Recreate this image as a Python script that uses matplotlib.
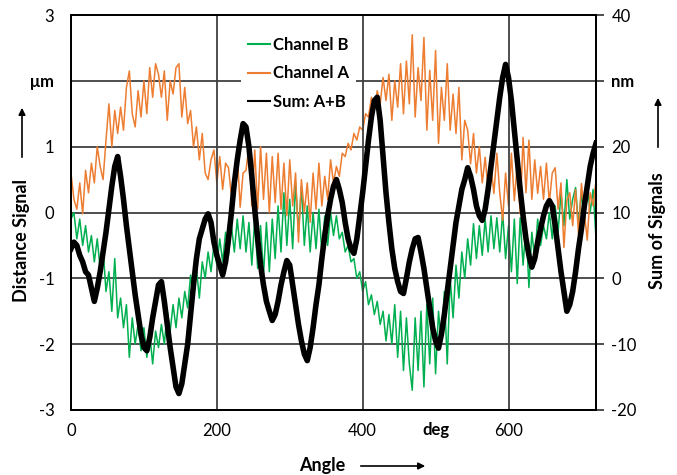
import matplotlib
matplotlib.use("Agg")
import matplotlib.pyplot as plt

plt.rcParams['font.family'] = ['Lato', 'DejaVu Sans']

# angle in deg, one sample every 4 deg
angle = list(range(0, 721, 4))

channel_a = [
    0.6, 0.2, 0.05, 0.45, -0.02, 0.64, 0.3, 0.75, 0.45, 1.0,
    0.7, 0.5, 1.1, 1.65, 1.0, 1.55, 1.2, 1.6, 1.25, 1.9,
    2.15, 1.5, 1.3, 1.85, 1.45, 2.0, 1.5, 2.2, 1.75, 2.26,
    2.1, 1.75, 2.15, 1.4, 2.0, 1.8, 2.2, 2.26, 1.45, 1.9,
    1.35, 1.55, 1.0, 1.3, 0.8, 1.2, 0.6, 0.5, 0.8, 0.95,
    0.45, 0.85, 0.35, 0.75, 0.68, 0.25, 0.3, 0.9, 0.08, 0.6,
    0.64, 1.0, 0.1, 0.95, 0.05, 1.0, 0.2, 0.9, 0.0, 0.85,
    0.15, 0.9, 0.05, 0.75, -0.05, 0.8, 0.1, 0.6, -0.45, 0.5,
    0.0, 0.45, -0.15, 0.6, 0.05, 0.75, 0.1, 0.55, 0.2, 0.8,
    0.45, 0.7, 0.55, 0.9, 0.85, 1.05, 0.95, 1.2, 1.1, 1.3,
    1.25, 1.5, 1.45, 1.75, 1.6, 1.85, 1.65, 2.05, 1.7, 2.1,
    1.4, 2.0, 1.6, 2.26, 1.5, 2.3, 1.65, 2.7, 1.45, 2.2,
    1.7, 2.66, 1.25, 2.16, 1.4, 2.46, 1.05, 1.9, 1.4, 2.26,
    1.25, 1.8, 1.2, 1.9, 0.8, 1.4, 1.25, 0.74, 1.2, 0.6,
    1.0, 0.45, 0.84, 0.35, 0.7, 0.29, 0.9, 0.3, -0.12, 0.6,
    0.1, 0.9, 0.18, 0.75, -0.02, 1.14, 0.3, 1.1, 0.2, 0.8,
    0.29, 0.7, 0.2, 0.75, 0.15, 0.6, 0.68, 0.05, 0.45, -0.53,
    0.18, 0.3, -0.2, 0.35, -0.32, 0.44, 0.0, -0.42, 0.3, 0.1,
    0.48,
]

channel_b = [
    -0.1, 0.0, -0.4, -0.1, -0.5, -0.2, -0.6, -0.35, -0.75, -0.4,
    -0.85, -0.55, -1.2, -0.9, -1.5, -0.7, -1.6, -1.3, -1.75, -1.4,
    -2.2, -1.6, -2.0, -1.7, -2.1, -1.75, -2.2, -1.85, -2.3, -1.8,
    -2.05, -1.7, -2.0, -1.5, -1.8, -1.4, -1.75, -1.3, -1.6, -1.2,
    -1.45, -0.95, -1.3, -0.85, -1.3, -0.75, -1.0, -0.6, -0.9, -0.5,
    -0.8, -0.4, -0.75, -0.3, -0.65, -0.2, -0.6, -0.1, -0.55, -0.05,
    -0.6, -0.15, -0.8, -0.1, -0.85, -0.2, -0.95, -0.15, -0.9, -0.1,
    -0.7, 0.1, -0.6, 0.3, -0.5, 0.2, -0.55, 0.45, -0.3, 0.4,
    -0.5, 0.1, -0.6, 0.0, -0.55, 0.05, -0.6, -0.05, -0.5, 0.0,
    -0.35, -0.05, -0.4, -0.3, -0.6, -0.5, -0.75, -0.7, -1.0, -0.9,
    -1.2, -1.05, -1.4, -1.25, -1.55, -1.35, -1.7, -1.5, -1.95, -1.55,
    -2.0, -1.4, -2.2, -1.5, -2.4, -1.6, -2.3, -2.7, -1.6, -2.4,
    -1.5, -2.65, -1.4, -2.3, -1.3, -2.45, -1.5, -2.0, -1.2, -2.3,
    -1.0, -1.6, -0.8, -1.3, -0.6, -1.0, -0.4, -0.8, -0.17, -0.7,
    -0.2, -0.65, -0.1, -0.6, -0.05, -0.55, -0.08, -0.6, 0.0, -0.7,
    -0.2, -0.9, -0.1, -1.08, -0.08, -0.8, -0.2, -1.14, -0.3, -0.7,
    -0.1, -0.5, -0.2, -0.4, 0.0, -0.4, 0.1, -0.3, 0.3, -0.2,
    0.5, -0.1, 0.2, 0.38, -0.2, 0.3, -0.15, 0.44, 0.0, 0.35,
    -0.4,
]

sum_ab = [
    4.5, 5.5, 5.0, 3.5, 2.5, 1.0, 0.5, -1.5, -3.5, -1.5,
    1.0, 4.0, 7.0, 10.5, 14.0, 17.0, 18.5, 15.5, 12.0, 8.0,
    4.5, 1.0, -2.5, -5.5, -8.5, -10.5, -11.0, -9.0, -6.0, -3.5,
    -1.0, -0.5, -3.5, -7.0, -10.5, -13.5, -16.5, -17.5, -16.0, -13.0,
    -10.0, -5.5, -1.0, 3.0, 6.0, 7.5, 9.0, 9.8, 8.5, 5.5,
    3.5, 2.0, 0.5, 2.5, 6.0, 10.0, 14.5, 18.0, 21.0, 23.5,
    23.0, 20.0, 15.5, 10.5, 6.0, 2.0, -1.0, -3.5, -5.0, -6.4,
    -5.5, -3.5, -1.0, 1.0, 2.7, 2.0, -1.0, -4.0, -7.0, -9.5,
    -11.5, -12.5, -10.5, -7.5, -4.0, -1.0, 3.0, 6.5, 9.5, 12.0,
    14.0, 15.0, 13.5, 11.5, 8.5, 6.0, 4.5, 3.8, 6.0, 9.5,
    13.0, 17.0, 21.0, 24.5, 27.0, 27.5, 24.0, 18.5, 13.0, 8.5,
    4.5, 1.5, -0.5, -2.0, -2.3, 0.0, 2.5, 4.5, 6.0, 6.2,
    4.0, 1.5, -1.5, -4.5, -7.5, -9.5, -10.6, -8.5, -5.5, -2.0,
    1.5, 5.0, 8.5, 11.0, 13.5, 15.0, 16.8, 15.5, 13.5, 11.0,
    9.5, 8.8, 10.5, 13.5, 17.0, 20.5, 24.0, 27.5, 30.5, 32.5,
    30.5, 27.0, 22.5, 18.0, 13.5, 9.5, 6.0, 3.5, 1.7, 3.0,
    5.5, 7.5, 9.5, 11.0, 11.8, 11.0, 8.0, 4.5, 1.0, -2.0,
    -5.0, -4.0, -2.0, 1.0, 4.5, 7.5, 11.0, 14.0, 17.0, 19.0,
    20.5,
]

x_ticks = [0, 200, 400, 500, 600]
x_tick_labels = ['0', '200', '400', 'deg', '600']
left_ticks = [-3, -2, -1, 0, 1, 2, 3]
left_tick_labels = ['-3', '-2', '-1', '0', '1', 'μm', '3']
right_ticks = [-20, -10, 0, 10, 20, 30, 40]
right_tick_labels = ['-20', '-10', '0', '10', '20', 'nm', '40']

green = '#00B050'
orange = '#ED7D31'
gridc = '#404040'

fig = plt.figure(figsize=(6.77, 4.75), dpi=100)
ax = fig.add_axes([71 / 677, 1 - 410 / 475, 525 / 677, 395 / 475])
ax2 = ax.twinx()

lb, = ax.plot(angle, channel_b, color=green, lw=1.1, label='Channel B')
la, = ax.plot(angle, channel_a, color=orange, lw=1.1, label='Channel A')
ls, = ax2.plot(angle, sum_ab, color='black', lw=4.0, label='Sum: A+B')

ax.set_xlim(0, 720)
ax.set_ylim(-3, 3)
ax2.set_ylim(-20, 40)

ax.set_xticks(x_ticks)
ax.set_xticklabels(x_tick_labels, fontsize=12)
ax.get_xticklabels()[3].set_fontweight('bold')
ax.set_yticks(left_ticks)
ax.set_yticklabels(left_tick_labels, fontsize=12)
ax.get_yticklabels()[5].set_fontweight('bold')
ax2.set_yticks(right_ticks)
ax2.set_yticklabels(right_tick_labels, fontsize=12)
ax2.get_yticklabels()[5].set_fontweight('bold')

ax.tick_params(axis='x', length=0, pad=9)
ax.tick_params(axis='y', length=0, pad=12)
ax2.tick_params(axis='y', length=6, width=1.3, color=gridc, pad=5)

ax.grid(axis='y', color=gridc, lw=1.3)
for xv in [200, 400, 600]:
    ax.axvline(xv, color=gridc, lw=1.3)

for a in (ax, ax2):
    for s in a.spines.values():
        s.set_color('black')
        s.set_linewidth(1.3)

# axis titles with arrows
fig.text(22 / 677, 1 - 240 / 475, 'Distance Signal', rotation=90, ha='center', va='center',
         fontsize=13, fontweight='bold')
fig.text(658 / 677, 1 - 231 / 475, 'Sum of Signals', rotation=90, ha='center', va='center',
         fontsize=13, fontweight='bold')
fig.text(322 / 677, 1 - 465 / 475, 'Angle', ha='center', va='center',
         fontsize=13, fontweight='bold')
arrow = dict(arrowstyle='-|>', color='black', lw=1.2, mutation_scale=10)
ax.annotate('', xy=(22 / 677, 1 - 105 / 475), xytext=(22 / 677, 1 - 160 / 475),
            xycoords='figure fraction', textcoords='figure fraction', arrowprops=arrow)
ax.annotate('', xy=(658 / 677, 1 - 95 / 475), xytext=(658 / 677, 1 - 150 / 475),
            xycoords='figure fraction', textcoords='figure fraction', arrowprops=arrow)
ax.annotate('', xy=(428 / 677, 1 - 466 / 475), xytext=(358 / 677, 1 - 466 / 475),
            xycoords='figure fraction', textcoords='figure fraction', arrowprops=arrow)

leg = ax2.legend(handles=[lb, la, ls], loc='upper left',
                 bbox_to_anchor=(233 / 677, 1 - 22 / 475), bbox_transform=fig.transFigure,
                 frameon=True, facecolor='white', edgecolor='none', framealpha=1,
                 fancybox=False, handlelength=1.3, handletextpad=0.2,
                 labelspacing=0.75, borderpad=0.4,
                 prop={'weight': 'bold', 'size': 12})
for h in leg.get_lines():
    h.set_linewidth(1.5)
leg.set_zorder(10)

fig.savefig('out.png', dpi=100)
